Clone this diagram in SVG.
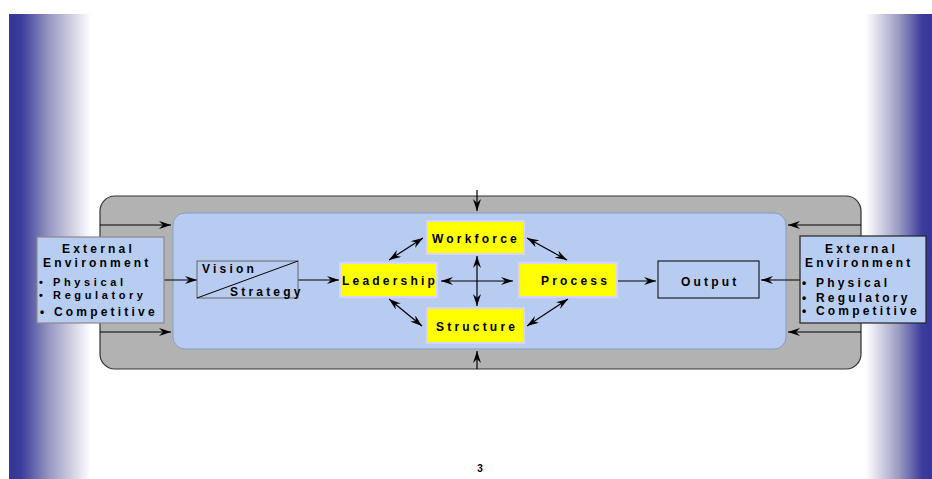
<svg xmlns="http://www.w3.org/2000/svg" width="932" height="479" viewBox="0 0 932 479">
<defs>
<linearGradient id="gl" x1="0" y1="0" x2="1" y2="0">
<stop offset="0" stop-color="#36369a"/>
<stop offset="0.15" stop-color="#3c3c9c"/>
<stop offset="0.5" stop-color="#9a9ac4"/>
<stop offset="1" stop-color="#ffffff"/>
</linearGradient>
<linearGradient id="gr" x1="0" y1="0" x2="1" y2="0">
<stop offset="0" stop-color="#ffffff"/>
<stop offset="0.5" stop-color="#9a9ac4"/>
<stop offset="0.85" stop-color="#3c3c9c"/>
<stop offset="1" stop-color="#36369a"/>
</linearGradient>
<marker id="ah" viewBox="0 0 12 8" refX="12" refY="4" markerWidth="12" markerHeight="8" markerUnits="userSpaceOnUse" orient="auto-start-reverse">
<path d="M0,0 L12,4 L0,8 L4,4 z" fill="#000"/>
</marker>
</defs>
<style>
text{font-family:"Liberation Sans",Arial,sans-serif;font-weight:bold;font-size:12px;letter-spacing:3.2px;fill:#000}
.sm{font-size:11px;letter-spacing:3.6px}
.ln{stroke:#000;stroke-width:1.2;fill:none}
.la{stroke:#000;stroke-width:1.2;fill:none;marker-end:url(#ah)}
.lb{stroke:#000;stroke-width:1.2;fill:none;marker-end:url(#ah);marker-start:url(#ah)}
.ys{fill:#ffff00;stroke:#d4d4ff;stroke-width:2}
.env{fill:#b8cdf2}
</style>
<rect x="0" y="0" width="932" height="479" fill="#fff"/>
<rect x="9" y="14" width="82" height="465" fill="url(#gl)"/>
<rect x="866" y="14" width="66" height="465" fill="url(#gr)"/>

<g id="outer">
<rect x="100" y="196" width="761" height="173" rx="15" fill="#b2b2b2" stroke="#333" stroke-width="1.2"/>
</g>
<g id="inner">
<rect x="173" y="213" width="613" height="136" rx="12" fill="#b8cbf1" stroke="#8a9cc0" stroke-width="1"/>
</g>

<g id="connectors">
<line class="la" x1="100" y1="225" x2="171" y2="225"/>
<line class="la" x1="100" y1="332" x2="171" y2="332"/>
<line class="la" x1="861" y1="225" x2="788" y2="225"/>
<line class="la" x1="861" y1="332" x2="788" y2="332"/>
<line class="la" x1="477" y1="190" x2="477" y2="211"/>
<line class="la" x1="477" y1="369" x2="477" y2="351"/>
<line class="la" x1="164" y1="280" x2="197" y2="280"/>
<line class="la" x1="298" y1="280" x2="339" y2="280"/>
<line class="lb" x1="441" y1="281" x2="513" y2="281"/>
<line class="lb" x1="477" y1="256" x2="477" y2="306"/>
<line class="lb" x1="389" y1="260" x2="423" y2="238"/>
<line class="lb" x1="527" y1="238" x2="567" y2="260"/>
<line class="lb" x1="389" y1="299" x2="422" y2="326"/>
<line class="lb" x1="568" y1="299" x2="527" y2="326"/>
<line class="la" x1="618" y1="281" x2="656" y2="281"/>
<line class="la" x1="800" y1="280" x2="761" y2="280"/>
</g>

<g id="env-left">
<rect class="env" x="37" y="237" width="127" height="86" stroke="#8a8a8a" stroke-width="1.2"/>
<text x="62" y="253">External</text>
<text x="43" y="267">Environment</text>
<text class="sm" x="39" y="286">• Physical</text>
<text class="sm" x="39" y="299">• Regulatory</text>
<text x="40" y="316">• Competitive</text>
</g>

<g id="vision">
<rect x="197" y="261" width="101" height="37" fill="none" stroke="#666" stroke-width="1"/>
<line x1="197" y1="298" x2="298" y2="261" stroke="#000" stroke-width="1"/>
<text x="202" y="273">Vision</text>
<text x="230" y="296">Strategy</text>
</g>

<g id="leadership">
<rect class="ys" x="340" y="263" width="97" height="34"/>
<text x="342" y="285">Leadership</text>
</g>
<g id="workforce">
<rect class="ys" x="427" y="221" width="97" height="33"/>
<text x="432" y="243">Workforce</text>
</g>
<g id="process">
<rect class="ys" x="519" y="263" width="98" height="34"/>
<text x="541" y="285">Process</text>
</g>
<g id="structure">
<rect class="ys" x="427" y="308" width="97" height="35"/>
<text x="436" y="331">Structure</text>
</g>

<g id="output">
<rect x="658" y="261" width="101" height="37" fill="none" stroke="#000" stroke-width="1"/>
<text x="681" y="286">Output</text>
</g>

<g id="env-right">
<rect class="env" x="800" y="236" width="126" height="87" stroke="#222" stroke-width="1.2"/>
<text x="825" y="253">External</text>
<text x="805" y="267">Environment</text>
<text x="802" y="287">• Physical</text>
<text x="802" y="302">• Regulatory</text>
<text x="802" y="315">• Competitive</text>
</g>

<text x="480" y="472" text-anchor="middle" style="font-size:10px;letter-spacing:0">3</text>
</svg>
